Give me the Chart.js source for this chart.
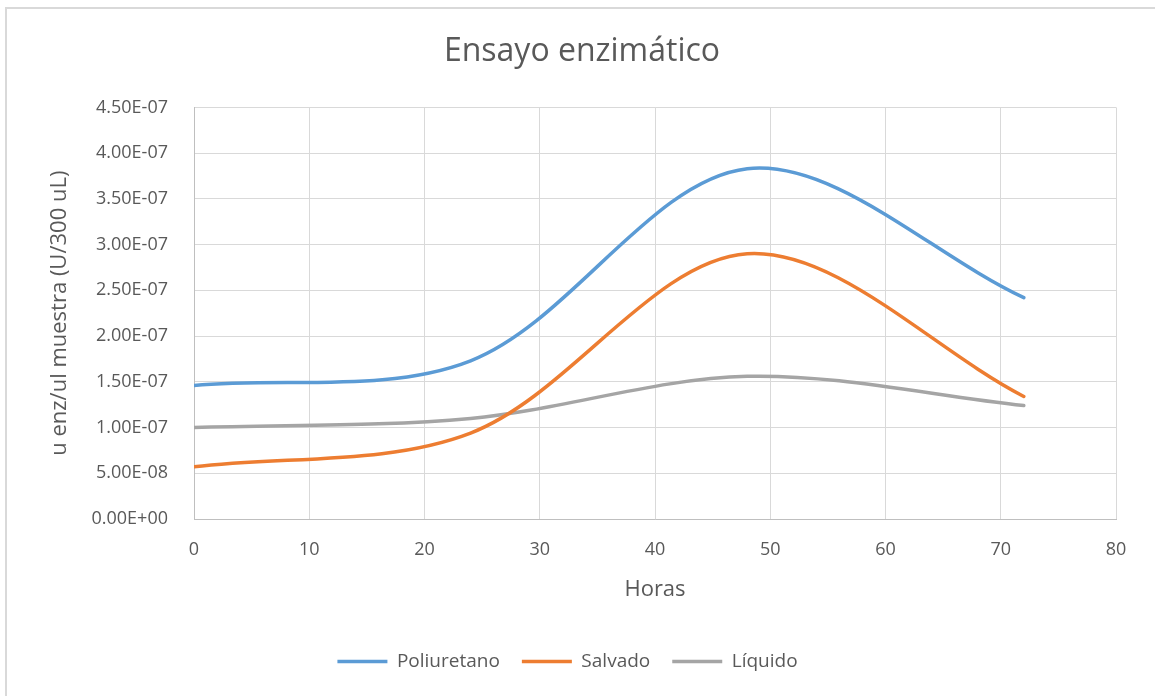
<!DOCTYPE html>
<html>
<head>
<meta charset="utf-8">
<script src="https://cdn.jsdelivr.net/npm/chart.js@4"></script>
<style>
  html, body { margin: 0; padding: 0; background: #ffffff; overflow: hidden; }
  #frame {
    position: absolute; left: 5px; top: 7px; width: 1300px; height: 800px;
    border-left: 2px solid #d9d9d9; border-top: 2px solid #d9d9d9;
  }
  #wrap { position: absolute; left: 0; top: 0; width: 1155px; height: 696px; }
</style>
</head>
<body>
<div id="frame"></div>
<div id="wrap"><canvas id="c"></canvas></div>
<script>
// Sampling times (hours)
const horas = [0, 24, 48, 72];

// Enzyme activity per sample (U/300 uL)
const poliuretano = [1.46e-7, 1.73e-7, 3.83e-7, 2.42e-7];
const salvado     = [5.7e-8, 9.4e-8, 2.90e-7, 1.34e-7];
const liquido     = [1.00e-7, 1.10e-7, 1.56e-7, 1.24e-7];

const seriesNames = ['Poliuretano', 'Salvado', 'Líquido'];
const seriesColors = ['#5B9BD5', '#ED7D31', '#A5A5A5'];

const xTicks = { min: 0, max: 80, step: 10 };
const yTicks = { min: 0, max: 4.5e-7, step: 5e-8 };

const FONT = '"Open Sans", "Noto Sans", sans-serif';
const TEXT = '#595959';

function toPoints(values) {
  return horas.map((h, i) => ({ x: h, y: values[i] }));
}

// Scientific notation with a two-digit exponent: 4.50E-07, 0.00E+00
function sci(v) {
  if (Math.abs(v) < 1e-20) return '0.00E+00';
  const parts = v.toExponential(2).split('e');
  const n = parseInt(parts[1], 10);
  return parts[0] + 'E' + (n < 0 ? '-' : '+') + String(Math.abs(n)).padStart(2, '0');
}

const datasets = [poliuretano, salvado, liquido].map((vals, i) => ({
  label: seriesNames[i],
  data: toPoints(vals),
  borderColor: seriesColors[i],
  backgroundColor: seriesColors[i],
  borderWidth: 3.5,
  borderCapStyle: 'round',
  borderJoinStyle: 'round',
  showLine: true,
  tension: 0.33,
  pointRadius: 0,
  pointHoverRadius: 0,
  fill: false
}));

// Centre the legend row a little left of the plot centre
const legendShift = {
  id: 'legendShift',
  afterLayout(chart) {
    if (chart.legend) chart.legend.left -= 29;
  }
};

new Chart(document.getElementById('c'), {
  type: 'scatter',
  data: { datasets },
  plugins: [legendShift],
  options: {
    responsive: true,
    maintainAspectRatio: false,
    animation: false,
    events: [],
    layout: { padding: { left: 48, right: 39, top: 0, bottom: 15 } },
    plugins: {
      tooltip: { enabled: false },
      title: {
        display: true,
        text: 'Ensayo enzimático',
        color: TEXT,
        font: { family: FONT, size: 32, weight: 'normal' },
        padding: { top: 33, bottom: 36 }
      },
      legend: {
        position: 'bottom',
        labels: {
          color: TEXT,
          font: { family: FONT, size: 19 },
          usePointStyle: true,
          pointStyle: 'line',
          pointStyleWidth: 50,
          padding: 22
        }
      }
    },
    scales: {
      x: {
        type: 'linear',
        min: xTicks.min,
        max: xTicks.max,
        afterFit: (s) => { s.height = 111; },
        ticks: {
          stepSize: xTicks.step,
          color: TEXT,
          font: { family: FONT, size: 18 },
          padding: 20,
          maxRotation: 0
        },
        grid: { color: '#d9d9d9', lineWidth: 1, drawTicks: false },
        border: { color: '#bfbfbf', width: 1 },
        title: {
          display: true,
          text: 'Horas',
          color: TEXT,
          font: { family: FONT, size: 22 },
          padding: { top: 0, bottom: 27 }
        }
      },
      y: {
        type: 'linear',
        min: yTicks.min,
        max: yTicks.max,
        afterFit: (s) => { s.width = 146; },
        ticks: {
          stepSize: yTicks.step,
          color: TEXT,
          font: { family: FONT, size: 18 },
          padding: 26,
          callback: (v) => sci(v)
        },
        grid: { color: '#d9d9d9', lineWidth: 1, drawTicks: false },
        border: { color: '#bfbfbf', width: 1 },
        title: {
          display: true,
          text: 'u enz/ul muestra (U/300 uL)',
          color: TEXT,
          font: { family: FONT, size: 22 },
          padding: { top: -1, bottom: 0 }
        }
      }
    }
  }
});
</script>
</body>
</html>
